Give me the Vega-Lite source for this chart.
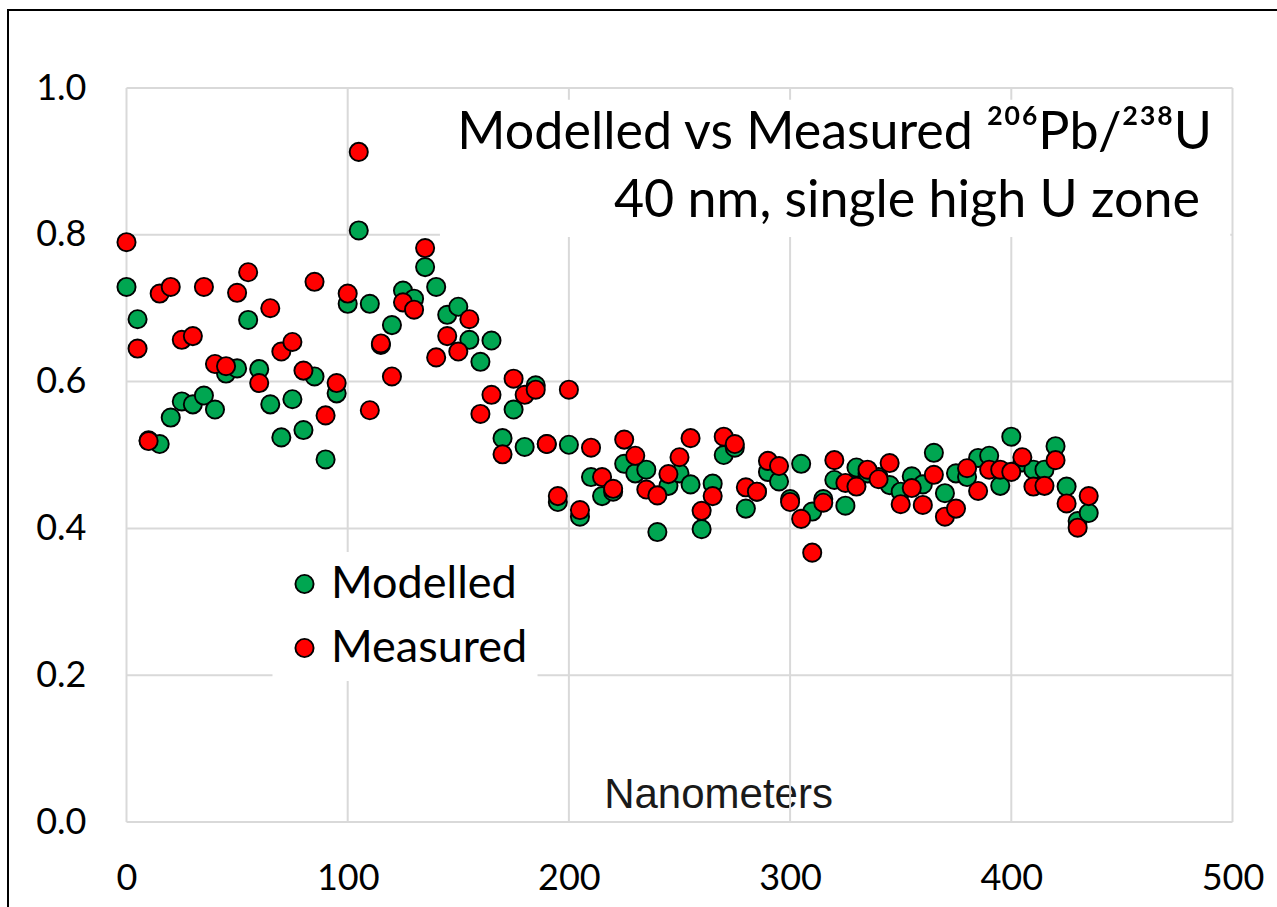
{
  "$schema": "https://vega.github.io/schema/vega-lite/v6.json",
  "width": 1274,
  "height": 902,
  "autosize": {"type": "none"},
  "padding": {"left": 8, "top": 10, "right": -5, "bottom": -5},
  "background": "white",
  "config": {
    "view": {"stroke": "black", "strokeWidth": 2},
    "font": "Lato",
    "axis": {"grid": false, "domain": false, "ticks": false, "tickSize": 0, "labelPadding": 0, "labelFont": "Lato", "labelFontSize": 36, "labelColor": "black", "labelBaseline": "middle"}
  },
  "datasets": {
    "xgrid": [{"v": 0}, {"v": 100}, {"v": 200}, {"v": 300}, {"v": 400}, {"v": 500}],
    "ygrid": [{"v": 0}, {"v": 0.2}, {"v": 0.4}, {"v": 0.6}, {"v": 0.8}, {"v": 1.0}],
    "points": [
      {"nm":0,"ratio":0.729,"series":"Modelled"},{"nm":5,"ratio":0.685,"series":"Modelled"},{"nm":10,"ratio":0.52,"series":"Modelled"},{"nm":15,"ratio":0.515,"series":"Modelled"},{"nm":20,"ratio":0.551,"series":"Modelled"},{"nm":25,"ratio":0.573,"series":"Modelled"},{"nm":30,"ratio":0.569,"series":"Modelled"},{"nm":35,"ratio":0.581,"series":"Modelled"},{"nm":40,"ratio":0.562,"series":"Modelled"},{"nm":45,"ratio":0.611,"series":"Modelled"},{"nm":50,"ratio":0.618,"series":"Modelled"},{"nm":55,"ratio":0.684,"series":"Modelled"},{"nm":60,"ratio":0.617,"series":"Modelled"},{"nm":65,"ratio":0.569,"series":"Modelled"},{"nm":70,"ratio":0.524,"series":"Modelled"},{"nm":75,"ratio":0.576,"series":"Modelled"},{"nm":80,"ratio":0.534,"series":"Modelled"},{"nm":85,"ratio":0.607,"series":"Modelled"},{"nm":90,"ratio":0.494,"series":"Modelled"},{"nm":95,"ratio":0.584,"series":"Modelled"},{"nm":100,"ratio":0.706,"series":"Modelled"},{"nm":105,"ratio":0.806,"series":"Modelled"},{"nm":110,"ratio":0.706,"series":"Modelled"},{"nm":115,"ratio":0.65,"series":"Modelled"},{"nm":120,"ratio":0.677,"series":"Modelled"},{"nm":125,"ratio":0.724,"series":"Modelled"},{"nm":130,"ratio":0.713,"series":"Modelled"},{"nm":135,"ratio":0.756,"series":"Modelled"},{"nm":140,"ratio":0.729,"series":"Modelled"},{"nm":145,"ratio":0.691,"series":"Modelled"},{"nm":150,"ratio":0.702,"series":"Modelled"},{"nm":155,"ratio":0.657,"series":"Modelled"},{"nm":160,"ratio":0.627,"series":"Modelled"},{"nm":165,"ratio":0.656,"series":"Modelled"},{"nm":170,"ratio":0.523,"series":"Modelled"},{"nm":175,"ratio":0.562,"series":"Modelled"},{"nm":180,"ratio":0.511,"series":"Modelled"},{"nm":185,"ratio":0.595,"series":"Modelled"},{"nm":190,"ratio":0.515,"series":"Modelled"},{"nm":195,"ratio":0.436,"series":"Modelled"},{"nm":200,"ratio":0.514,"series":"Modelled"},{"nm":205,"ratio":0.416,"series":"Modelled"},{"nm":210,"ratio":0.47,"series":"Modelled"},{"nm":215,"ratio":0.444,"series":"Modelled"},{"nm":220,"ratio":0.45,"series":"Modelled"},{"nm":225,"ratio":0.488,"series":"Modelled"},{"nm":230,"ratio":0.475,"series":"Modelled"},{"nm":235,"ratio":0.48,"series":"Modelled"},{"nm":240,"ratio":0.395,"series":"Modelled"},{"nm":245,"ratio":0.458,"series":"Modelled"},{"nm":250,"ratio":0.475,"series":"Modelled"},{"nm":255,"ratio":0.46,"series":"Modelled"},{"nm":260,"ratio":0.399,"series":"Modelled"},{"nm":265,"ratio":0.461,"series":"Modelled"},{"nm":270,"ratio":0.5,"series":"Modelled"},{"nm":275,"ratio":0.51,"series":"Modelled"},{"nm":280,"ratio":0.427,"series":"Modelled"},{"nm":285,"ratio":0.45,"series":"Modelled"},{"nm":290,"ratio":0.477,"series":"Modelled"},{"nm":295,"ratio":0.464,"series":"Modelled"},{"nm":300,"ratio":0.44,"series":"Modelled"},{"nm":305,"ratio":0.488,"series":"Modelled"},{"nm":310,"ratio":0.423,"series":"Modelled"},{"nm":315,"ratio":0.44,"series":"Modelled"},{"nm":320,"ratio":0.466,"series":"Modelled"},{"nm":325,"ratio":0.431,"series":"Modelled"},{"nm":330,"ratio":0.483,"series":"Modelled"},{"nm":335,"ratio":0.475,"series":"Modelled"},{"nm":340,"ratio":0.47,"series":"Modelled"},{"nm":345,"ratio":0.459,"series":"Modelled"},{"nm":350,"ratio":0.45,"series":"Modelled"},{"nm":355,"ratio":0.471,"series":"Modelled"},{"nm":360,"ratio":0.46,"series":"Modelled"},{"nm":365,"ratio":0.503,"series":"Modelled"},{"nm":370,"ratio":0.448,"series":"Modelled"},{"nm":375,"ratio":0.475,"series":"Modelled"},{"nm":380,"ratio":0.47,"series":"Modelled"},{"nm":385,"ratio":0.496,"series":"Modelled"},{"nm":390,"ratio":0.499,"series":"Modelled"},{"nm":395,"ratio":0.458,"series":"Modelled"},{"nm":400,"ratio":0.525,"series":"Modelled"},{"nm":405,"ratio":0.49,"series":"Modelled"},{"nm":410,"ratio":0.48,"series":"Modelled"},{"nm":415,"ratio":0.48,"series":"Modelled"},{"nm":420,"ratio":0.512,"series":"Modelled"},{"nm":425,"ratio":0.457,"series":"Modelled"},{"nm":430,"ratio":0.41,"series":"Modelled"},{"nm":435,"ratio":0.421,"series":"Modelled"},
      {"nm":0,"ratio":0.79,"series":"Measured"},{"nm":5,"ratio":0.645,"series":"Measured"},{"nm":10,"ratio":0.519,"series":"Measured"},{"nm":15,"ratio":0.72,"series":"Measured"},{"nm":20,"ratio":0.729,"series":"Measured"},{"nm":25,"ratio":0.657,"series":"Measured"},{"nm":30,"ratio":0.662,"series":"Measured"},{"nm":35,"ratio":0.729,"series":"Measured"},{"nm":40,"ratio":0.624,"series":"Measured"},{"nm":45,"ratio":0.621,"series":"Measured"},{"nm":50,"ratio":0.721,"series":"Measured"},{"nm":55,"ratio":0.749,"series":"Measured"},{"nm":60,"ratio":0.598,"series":"Measured"},{"nm":65,"ratio":0.7,"series":"Measured"},{"nm":70,"ratio":0.641,"series":"Measured"},{"nm":75,"ratio":0.654,"series":"Measured"},{"nm":80,"ratio":0.615,"series":"Measured"},{"nm":85,"ratio":0.736,"series":"Measured"},{"nm":90,"ratio":0.554,"series":"Measured"},{"nm":95,"ratio":0.598,"series":"Measured"},{"nm":100,"ratio":0.72,"series":"Measured"},{"nm":105,"ratio":0.913,"series":"Measured"},{"nm":110,"ratio":0.561,"series":"Measured"},{"nm":115,"ratio":0.652,"series":"Measured"},{"nm":120,"ratio":0.607,"series":"Measured"},{"nm":125,"ratio":0.708,"series":"Measured"},{"nm":130,"ratio":0.698,"series":"Measured"},{"nm":135,"ratio":0.782,"series":"Measured"},{"nm":140,"ratio":0.633,"series":"Measured"},{"nm":145,"ratio":0.662,"series":"Measured"},{"nm":150,"ratio":0.641,"series":"Measured"},{"nm":155,"ratio":0.685,"series":"Measured"},{"nm":160,"ratio":0.556,"series":"Measured"},{"nm":165,"ratio":0.582,"series":"Measured"},{"nm":170,"ratio":0.501,"series":"Measured"},{"nm":175,"ratio":0.604,"series":"Measured"},{"nm":180,"ratio":0.582,"series":"Measured"},{"nm":185,"ratio":0.589,"series":"Measured"},{"nm":190,"ratio":0.515,"series":"Measured"},{"nm":195,"ratio":0.444,"series":"Measured"},{"nm":200,"ratio":0.589,"series":"Measured"},{"nm":205,"ratio":0.425,"series":"Measured"},{"nm":210,"ratio":0.51,"series":"Measured"},{"nm":215,"ratio":0.47,"series":"Measured"},{"nm":220,"ratio":0.454,"series":"Measured"},{"nm":225,"ratio":0.521,"series":"Measured"},{"nm":230,"ratio":0.499,"series":"Measured"},{"nm":235,"ratio":0.453,"series":"Measured"},{"nm":240,"ratio":0.445,"series":"Measured"},{"nm":245,"ratio":0.474,"series":"Measured"},{"nm":250,"ratio":0.497,"series":"Measured"},{"nm":255,"ratio":0.523,"series":"Measured"},{"nm":260,"ratio":0.424,"series":"Measured"},{"nm":265,"ratio":0.444,"series":"Measured"},{"nm":270,"ratio":0.525,"series":"Measured"},{"nm":275,"ratio":0.515,"series":"Measured"},{"nm":280,"ratio":0.456,"series":"Measured"},{"nm":285,"ratio":0.45,"series":"Measured"},{"nm":290,"ratio":0.492,"series":"Measured"},{"nm":295,"ratio":0.485,"series":"Measured"},{"nm":300,"ratio":0.436,"series":"Measured"},{"nm":305,"ratio":0.413,"series":"Measured"},{"nm":310,"ratio":0.367,"series":"Measured"},{"nm":315,"ratio":0.435,"series":"Measured"},{"nm":320,"ratio":0.493,"series":"Measured"},{"nm":325,"ratio":0.462,"series":"Measured"},{"nm":330,"ratio":0.457,"series":"Measured"},{"nm":335,"ratio":0.48,"series":"Measured"},{"nm":340,"ratio":0.467,"series":"Measured"},{"nm":345,"ratio":0.489,"series":"Measured"},{"nm":350,"ratio":0.433,"series":"Measured"},{"nm":355,"ratio":0.455,"series":"Measured"},{"nm":360,"ratio":0.432,"series":"Measured"},{"nm":365,"ratio":0.473,"series":"Measured"},{"nm":370,"ratio":0.416,"series":"Measured"},{"nm":375,"ratio":0.427,"series":"Measured"},{"nm":380,"ratio":0.482,"series":"Measured"},{"nm":385,"ratio":0.451,"series":"Measured"},{"nm":390,"ratio":0.48,"series":"Measured"},{"nm":395,"ratio":0.48,"series":"Measured"},{"nm":400,"ratio":0.477,"series":"Measured"},{"nm":405,"ratio":0.497,"series":"Measured"},{"nm":410,"ratio":0.457,"series":"Measured"},{"nm":415,"ratio":0.458,"series":"Measured"},{"nm":420,"ratio":0.493,"series":"Measured"},{"nm":425,"ratio":0.434,"series":"Measured"},{"nm":430,"ratio":0.401,"series":"Measured"},{"nm":435,"ratio":0.444,"series":"Measured"}
    ]
  },
  "layer": [
    {
      "data": {"name": "xgrid"},
      "mark": {"type": "rule", "color": "#d9d9d9", "strokeWidth": 2},
      "encoding": {
        "x": {"field": "v", "type": "quantitative", "scale": {"domain": [-53.57, 522.38], "nice": false, "zero": false}},
        "y": {"datum": 0, "type": "quantitative", "scale": {"domain": [-0.1226, 1.1063], "nice": false, "zero": false}},
        "y2": {"datum": 1}
      }
    },
    {
      "data": {"name": "ygrid"},
      "mark": {"type": "rule", "color": "#d9d9d9", "strokeWidth": 2},
      "encoding": {
        "y": {"field": "v", "type": "quantitative"},
        "x": {"datum": 0, "type": "quantitative"},
        "x2": {"datum": 500}
      }
    },
    {
      "data": {"values": [{}]},
      "mark": {"type": "rect", "fill": "white", "stroke": null},
      "encoding": {
        "x": {"datum": 141.7, "type": "quantitative"},
        "x2": {"datum": 499},
        "y": {"datum": 0.984, "type": "quantitative"},
        "y2": {"datum": 0.797}
      }
    },
    {
      "data": {"name": "points"},
      "mark": {"type": "circle", "size": 330, "opacity": 1, "stroke": "black", "strokeWidth": 1.9},
      "encoding": {
        "x": {
          "field": "nm", "type": "quantitative",
          "axis": {
            "values": [0, 100, 200, 300, 400, 500], "format": "d",
            "domain": false, "ticks": false, "tickSize": 0, "grid": false,
            "offset": -34, "labelPadding": 0, "labelBaseline": "middle",
            "labelFont": "Lato", "labelFontSize": 36, "labelColor": "black",
            "title": "Nanometers", "titleFont": "Liberation Sans", "titleFontSize": 42,
            "titleFontWeight": "normal", "titleColor": "#1a1a1a",
            "titleX": 710, "titleY": -71, "titleAlign": "center", "titleBaseline": "alphabetic"
          }
        },
        "y": {
          "field": "ratio", "type": "quantitative",
          "axis": {
            "values": [0, 0.2, 0.4, 0.6, 0.8, 1.0], "format": ".1f",
            "domain": false, "ticks": false, "tickSize": 0, "grid": false,
            "offset": -78, "labelPadding": 0, "labelBaseline": "middle", "labelAlign": "right",
            "labelFont": "Lato", "labelFontSize": 36, "labelColor": "black",
            "title": null
          }
        },
        "color": {
          "field": "series", "type": "nominal",
          "scale": {"domain": ["Modelled", "Measured"], "range": ["#00a651", "#ff0000"]},
          "legend": {
            "title": null, "orient": "none", "legendX": 264.5, "legendY": 542,
            "fillColor": "white", "padding": 9.5, "strokeColor": null,
            "symbolType": "circle", "symbolSize": 330, "symbolStrokeColor": "black", "symbolStrokeWidth": 1.9,
            "symbolOpacity": 1,
            "labelFont": "Lato", "labelFontSize": 45, "labelColor": "black",
            "labelOffset": 4, "rowPadding": 18, "labelLimit": 400
          }
        }
      }
    },
    {
      "data": {"values": [{}]},
      "mark": {"type": "text", "text": "Modelled vs Measured ²⁰⁶Pb/²³⁸U", "font": "Lato", "fontSize": 52, "align": "right", "baseline": "alphabetic", "color": "black"},
      "encoding": {
        "x": {"datum": 490.7, "type": "quantitative"},
        "y": {"datum": 0.9169, "type": "quantitative"}
      }
    },
    {
      "data": {"values": [{}]},
      "mark": {"type": "text", "text": "40 nm, single high U zone", "font": "Lato", "fontSize": 52, "align": "right", "baseline": "alphabetic", "color": "black"},
      "encoding": {
        "x": {"datum": 485.3, "type": "quantitative"},
        "y": {"datum": 0.8243, "type": "quantitative"}
      }
    }
  ]
}
